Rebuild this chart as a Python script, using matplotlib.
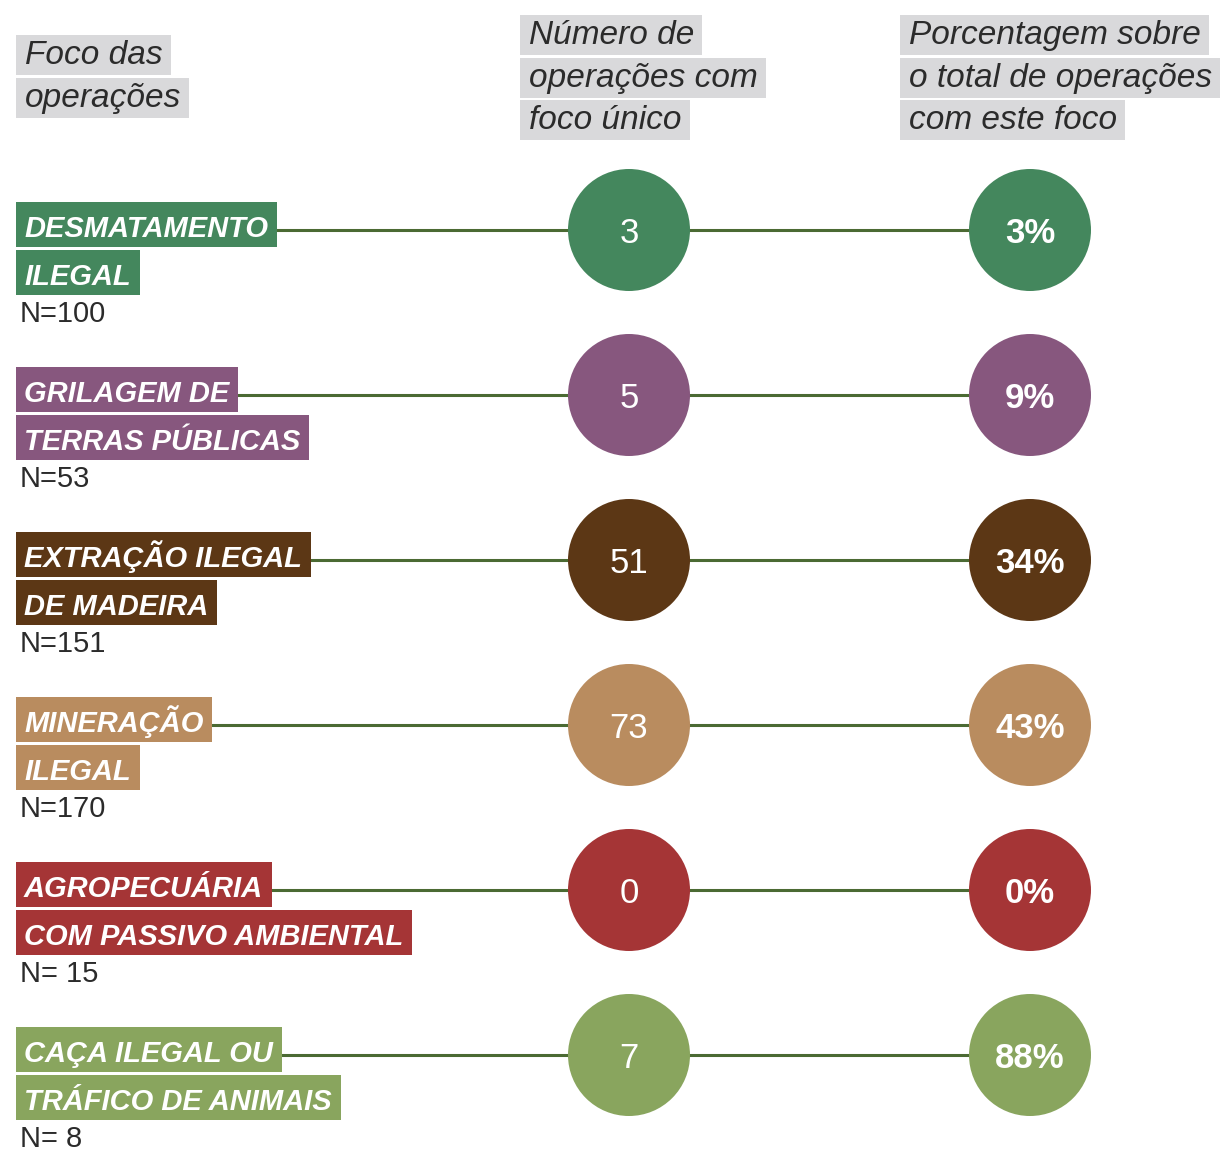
import matplotlib.pyplot as plt
from matplotlib.patches import Circle, Rectangle

plt.rcParams['font.family'] = ['Liberation Sans', 'DejaVu Sans']

# data
focus_line1 = ["DESMATAMENTO", "GRILAGEM DE", "EXTRAÇÃO ILEGAL", "MINERAÇÃO", "AGROPECUÁRIA", "CAÇA ILEGAL OU"]
focus_line2 = ["ILEGAL", "TERRAS PÚBLICAS", "DE MADEIRA", "ILEGAL", "COM PASSIVO AMBIENTAL", "TRÁFICO DE ANIMAIS"]
n_labels = ["N=100", "N=53", "N=151", "N=170", "N= 15", "N= 8"]
single_focus = [3, 5, 51, 73, 0, 7]
pct_of_total = [3, 9, 34, 43, 0, 88]
colors = ["#44875d", "#87577e", "#5c3715", "#b98c5f", "#a53536", "#89a55e"]

head_left = ["Foco das", "operações"]
head_mid = ["Número de", "operações com", "foco único"]
head_right = ["Porcentagem sobre", "o total de operações", "com este foco"]

W, H = 1223, 1151
fig = plt.figure(figsize=(W / 100, H / 100), dpi=100)
ax = fig.add_axes([0, 0, 1, 1])
ax.set_xlim(0, W)
ax.set_ylim(H, 0)
ax.axis('off')
renderer = fig.canvas.get_renderer()

grey = "#d9d9db"
txt = "#2b2b2b"
linecol = "#4b6a33"
x_mid, x_right, r = 629, 1030, 61


def boxed(x, top, bottom, s, fc, padl, padr, base_off, **kw):
    # text on a coloured strip, strip width follows the text
    t = ax.text(x + padl, bottom - base_off, s, va='baseline', ha='left', zorder=3, **kw)
    bb = t.get_window_extent(renderer)
    ax.add_patch(Rectangle((x, top), bb.width + padl + padr, bottom - top,
                           fc=fc, ec='none', zorder=2.5))


def header(lines, x, top):
    for k, s in enumerate(lines):
        y0 = top + k * 42.5
        boxed(x, y0, y0 + 40, s, grey, 9, 8, 11, fontsize=24, style='italic', color=txt)


header(head_left, 16, 35)
header(head_mid, 520, 15)
header(head_right, 900, 15)

for i in range(len(focus_line1)):
    y = 230 + 165 * i
    c = colors[i]
    ax.plot([20, x_right], [y, y], color=linecol, lw=2.2, zorder=1, solid_capstyle='butt')
    for k, s in enumerate([focus_line1[i], focus_line2[i]]):
        top = y - 28 + 48 * k
        boxed(16, top, top + 45, s, c, 8, 9, 10, fontsize=21, fontweight='bold',
              style='italic', color='white')
    ax.text(20, y + 92, n_labels[i], fontsize=21, color=txt, va='baseline', ha='left')
    ax.add_patch(Circle((x_mid, y), r, fc=c, ec='none', zorder=2))
    ax.add_patch(Circle((x_right, y), r, fc=c, ec='none', zorder=2))
    ax.text(x_mid, y + 13, str(single_focus[i]), fontsize=25, color='white',
            ha='center', va='baseline', zorder=4)
    ax.text(x_right, y + 13, f"{pct_of_total[i]}%", fontsize=25, fontweight='bold',
            color='white', ha='center', va='baseline', zorder=4)

fig.savefig("out.png", dpi=100)
